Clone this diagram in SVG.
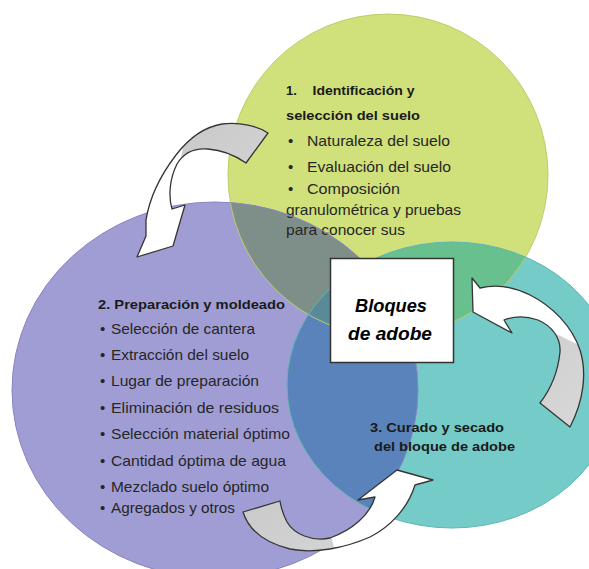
<svg xmlns="http://www.w3.org/2000/svg" width="589" height="569" viewBox="0 0 589 569">
<style>
.t{font-family:"Liberation Sans",Arial,sans-serif;fill:#262626}
.h{font-family:"Liberation Sans",Arial,sans-serif;font-weight:bold;fill:#1a1a1a;font-size:13px}
.b{font-size:15px}
.bx{font-family:"Liberation Sans",Arial,sans-serif;font-weight:bold;font-style:italic;font-size:18px;fill:#000;text-anchor:middle}
.arr{stroke:#353535;stroke-width:1.3;stroke-linejoin:round}
.ol{fill:none;stroke-width:1}
</style>
<defs>
<clipPath id="cpG"><ellipse cx="388" cy="175" rx="160" ry="161"/></clipPath>
<clipPath id="cpP"><ellipse cx="215" cy="390" rx="203" ry="188"/></clipPath>
<clipPath id="cpT"><ellipse cx="452" cy="385" rx="165" ry="143"/></clipPath>
<clipPath id="g1"><polygon points="190,100 300,100 300,200 175,200"/></clipPath>
<clipPath id="g2"><polygon points="540,326 589,350 589,440 520,440"/></clipPath>
<clipPath id="g3"><polygon points="230,490 320,490 337,560 230,560"/></clipPath>
<linearGradient id="gr" x1="0" y1="0" x2="1" y2="1"><stop offset="0" stop-color="#c6c6c6"/><stop offset="1" stop-color="#d8d8d8"/></linearGradient>
<path id="a1" d="M268,133 C258,126 240,122 222,124 C204,127 189,138 176,155 C163,172 150,195 146,220 L146,236 L137,257 L173,246 L185,205 L172,209 C168,195 170,178 177,164 C184,152 196,148 208,149 C222,150 236,156 246,163 Z"/>
<path id="a2" d="M472,278 L480,288 C492,285 510,285 530,295 C552,306 572,326 580,350 C587,372 584,400 570,427 L540,403 C550,390 558,372 560,352 C561,338 552,326 538,320 C526,316 514,316 504,320 L512,333 L473,312 Z"/>
<path id="a3" d="M243,512 C248,528 262,542 290,549 C315,554 345,548 370,537 C390,527 408,508 415,485 L433,480 L397,470 L358,500 L375,497 C370,515 352,530 330,538 C312,542 294,534 287,522 C283,514 281,508 280,501 Z"/>
</defs>
<rect width="589" height="569" fill="#ffffff"/>
<g id="venn-fills">
<ellipse cx="388" cy="175" rx="160" ry="161" fill="#d0e17b"/>
<ellipse cx="215" cy="390" rx="203" ry="188" fill="#a09dd5"/>
<ellipse cx="452" cy="385" rx="165" ry="143" fill="#75cbc7"/>
<g clip-path="url(#cpG)"><ellipse cx="215" cy="390" rx="203" ry="188" fill="#7e8f89"/></g>
<g clip-path="url(#cpG)"><ellipse cx="452" cy="385" rx="165" ry="143" fill="#68c08e"/></g>
<g clip-path="url(#cpP)"><ellipse cx="452" cy="385" rx="165" ry="143" fill="#5983ba"/></g>
<g clip-path="url(#cpG)"><g clip-path="url(#cpP)"><ellipse cx="452" cy="385" rx="165" ry="143" fill="#5a8a98"/></g></g>
</g>
<g id="node-identificacion">
<ellipse class="ol" cx="388" cy="175" rx="160" ry="161" stroke="#bccd6a"/>
<text class="h" x="286" y="95">1.</text>
<text class="h" x="312.5" y="95" textLength="102" lengthAdjust="spacingAndGlyphs">Identificación y</text>
<text class="h" x="286" y="120" textLength="134" lengthAdjust="spacingAndGlyphs">selección del suelo</text>
<g class="t b">
<text x="288" y="146">•</text><text x="307" y="146" textLength="143" lengthAdjust="spacingAndGlyphs">Naturaleza del suelo</text>
<text x="288" y="172">•</text><text x="307" y="172" textLength="144" lengthAdjust="spacingAndGlyphs">Evaluación del suelo</text>
<text x="288" y="194">•</text><text x="307" y="194" textLength="93" lengthAdjust="spacingAndGlyphs">Composición</text>
<text x="286" y="215" textLength="175" lengthAdjust="spacingAndGlyphs">granulométrica y pruebas</text>
<text x="286" y="235" textLength="119" lengthAdjust="spacingAndGlyphs">para conocer sus</text>
</g>
</g>
<g id="node-preparacion">
<ellipse class="ol" cx="215" cy="390" rx="203" ry="188" stroke="#8985c2"/>
<text class="h" x="98" y="309" textLength="187" lengthAdjust="spacingAndGlyphs">2.  Preparación y moldeado</text>
<g class="t b">
<text x="100" y="334">•</text><text x="111" y="334" textLength="144" lengthAdjust="spacingAndGlyphs">Selección de cantera</text>
<text x="100" y="360">•</text><text x="111" y="360" textLength="138" lengthAdjust="spacingAndGlyphs">Extracción del suelo</text>
<text x="100" y="386">•</text><text x="111" y="386" textLength="148" lengthAdjust="spacingAndGlyphs">Lugar de preparación</text>
<text x="100" y="413">•</text><text x="111" y="413" textLength="168" lengthAdjust="spacingAndGlyphs">Eliminación de residuos</text>
<text x="100" y="439">•</text><text x="111" y="439" textLength="179" lengthAdjust="spacingAndGlyphs">Selección material óptimo</text>
<text x="100" y="466">•</text><text x="111" y="466" textLength="175" lengthAdjust="spacingAndGlyphs">Cantidad óptima de agua</text>
<text x="100" y="492">•</text><text x="111" y="492" textLength="158" lengthAdjust="spacingAndGlyphs">Mezclado suelo óptimo</text>
<text x="100" y="513">•</text><text x="111" y="513" textLength="124" lengthAdjust="spacingAndGlyphs">Agregados y otros</text>
</g>
</g>
<g id="node-curado">
<ellipse class="ol" cx="452" cy="385" rx="165" ry="143" stroke="#5fb6b2"/>
<text class="h" x="370" y="432" textLength="134" lengthAdjust="spacingAndGlyphs">3.  Curado y secado</text>
<text class="h" x="374" y="451" textLength="141" lengthAdjust="spacingAndGlyphs">del bloque de adobe</text>
</g>
<g id="node-bloques">
<rect x="330.5" y="258.5" width="123" height="104" fill="#ffffff" stroke="#333333" stroke-width="1.5"/>
<text class="bx" x="391" y="312" textLength="72" lengthAdjust="spacingAndGlyphs">Bloques</text>
<text class="bx" x="390" y="340" textLength="84" lengthAdjust="spacingAndGlyphs">de adobe</text>
</g>
<g id="connectors">
<g id="arrow-1-2">
<use href="#a1" fill="#ffffff"/>
<g clip-path="url(#g1)"><use href="#a1" fill="url(#gr)"/></g>
<use href="#a1" class="arr" fill="none"/>
</g>
<g id="arrow-2-3">
<use href="#a3" fill="#ffffff"/>
<g clip-path="url(#g3)"><use href="#a3" fill="url(#gr)"/></g>
<use href="#a3" class="arr" fill="none"/>
</g>
<g id="arrow-3-bloques">
<use href="#a2" fill="#ffffff"/>
<g clip-path="url(#g2)"><use href="#a2" fill="url(#gr)"/></g>
<use href="#a2" class="arr" fill="none"/>
</g>
</g>
</svg>
